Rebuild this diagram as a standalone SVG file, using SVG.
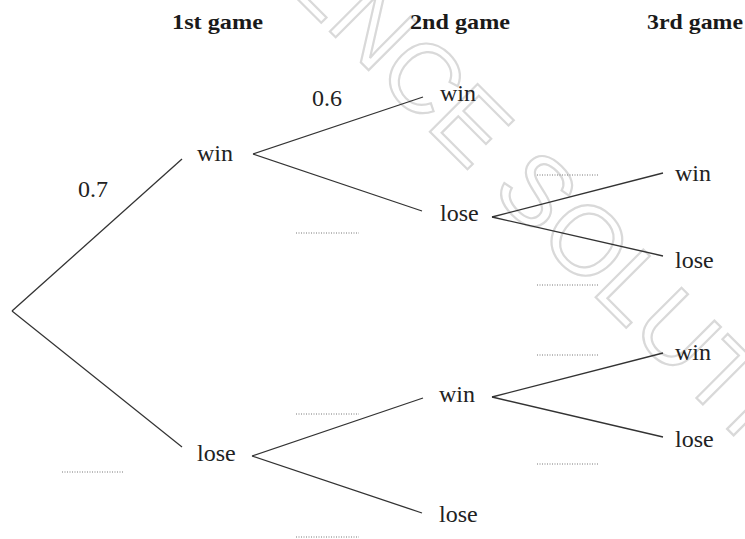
<svg xmlns="http://www.w3.org/2000/svg" width="745" height="539" viewBox="0 0 745 539">
<style>
text.hd{font-family:'Liberation Serif','Times New Roman',Times,serif;font-weight:bold;font-size:21px;fill:#1a1a1a}
text.lb{font-family:'Liberation Serif','Times New Roman',Times,serif;font-size:24px;fill:#222}
.ln{stroke:#333;stroke-width:1.3;fill:none}
.dt{stroke:#777;stroke-width:1;stroke-dasharray:1 1.5;fill:none}
text.wm{font-family:'Liberation Sans',Arial,sans-serif;font-size:98px;fill:none;stroke:#d9d9d9;stroke-width:2.2}
</style>
<rect width="745" height="539" fill="#fff"/>
<text class="wm" font-family="Liberation Sans" transform="rotate(45)" x="-150" y="-211">REFERENCE SOLUTION</text>
<g id="headers" font-family="Liberation Serif">
<text class="hd" x="172" y="29" textLength="91" lengthAdjust="spacingAndGlyphs">1st game</text>
<text class="hd" x="410" y="29" textLength="100" lengthAdjust="spacingAndGlyphs">2nd game</text>
<text class="hd" x="647" y="29" textLength="96" lengthAdjust="spacingAndGlyphs">3rd game</text>
</g>
<g id="connectors">
<line class="ln" x1="12" y1="311" x2="182" y2="159"/>
<line class="ln" x1="12" y1="311" x2="182" y2="447"/>
<line class="ln" x1="253" y1="154" x2="423" y2="97"/>
<line class="ln" x1="253" y1="154" x2="422" y2="211"/>
<line class="ln" x1="252" y1="456" x2="423" y2="398"/>
<line class="ln" x1="252" y1="456" x2="422" y2="513"/>
<line class="ln" x1="492" y1="217" x2="663" y2="173"/>
<line class="ln" x1="492" y1="217" x2="663" y2="256"/>
<line class="ln" x1="492" y1="397" x2="663" y2="353"/>
<line class="ln" x1="492" y1="397" x2="663" y2="437"/>
</g>
<g id="blanks">
<line class="dt" x1="62" y1="472" x2="124" y2="472"/>
<line class="dt" x1="296" y1="233" x2="359" y2="233"/>
<line class="dt" x1="296" y1="414" x2="359" y2="414"/>
<line class="dt" x1="296" y1="537" x2="359" y2="537"/>
<line class="dt" x1="537" y1="175" x2="599" y2="175"/>
<line class="dt" x1="537" y1="285" x2="599" y2="285"/>
<line class="dt" x1="537" y1="355" x2="599" y2="355"/>
<line class="dt" x1="537" y1="464" x2="599" y2="464"/>
</g>
<g id="prob-labels" font-family="Liberation Serif">
<text class="lb" x="78" y="197">0.7</text>
<text class="lb" x="312" y="106">0.6</text>
</g>
<g id="n-win1" font-family="Liberation Serif"><text class="lb" x="197" y="161">win</text></g>
<g id="n-lose1" font-family="Liberation Serif"><text class="lb" x="197" y="461">lose</text></g>
<g id="n-win2a" font-family="Liberation Serif"><text class="lb" x="440" y="101">win</text></g>
<g id="n-lose2a" font-family="Liberation Serif"><text class="lb" x="440" y="221">lose</text></g>
<g id="n-win2b" font-family="Liberation Serif"><text class="lb" x="439" y="402">win</text></g>
<g id="n-lose2b" font-family="Liberation Serif"><text class="lb" x="439" y="522">lose</text></g>
<g id="n-win3a" font-family="Liberation Serif"><text class="lb" x="675" y="181">win</text></g>
<g id="n-lose3a" font-family="Liberation Serif"><text class="lb" x="675" y="268">lose</text></g>
<g id="n-win3b" font-family="Liberation Serif"><text class="lb" x="675" y="360">win</text></g>
<g id="n-lose3b" font-family="Liberation Serif"><text class="lb" x="675" y="447">lose</text></g>
</svg>
